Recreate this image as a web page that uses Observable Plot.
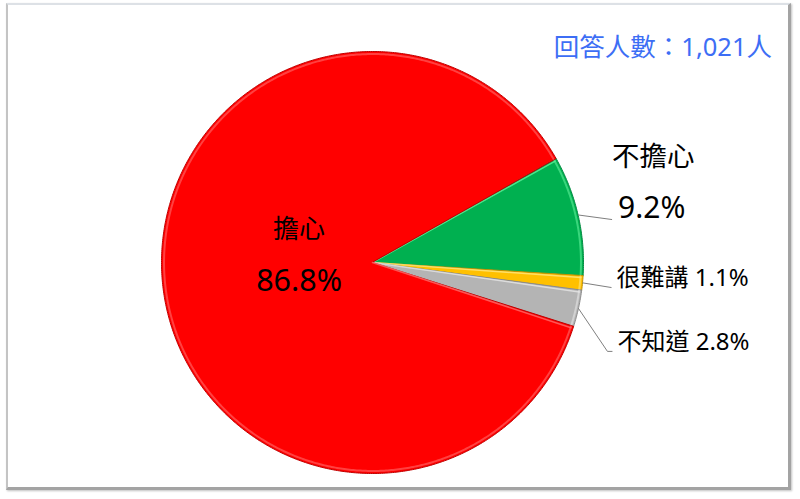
<!DOCTYPE html>
<html>
<head>
<meta charset="utf-8">
<script src="https://cdn.jsdelivr.net/npm/d3@7"></script>
<script src="https://cdn.jsdelivr.net/npm/@observablehq/plot@0.6"></script>
<style>
  html, body { margin: 0; padding: 0; background: #ffffff; }
  body { width: 800px; height: 499px; overflow: hidden; position: relative; font-family: "Noto Sans", "Noto Sans CJK TC", sans-serif; }
  #frame { position: absolute; left: 6px; top: 3px; width: 780px; height: 482px; background: #fff;
           border-left: 2px solid #c4c4c4; border-top: 2px solid #dde1e6; border-right: 3px solid #a3a3a3; border-bottom: 3px solid #a3a3a3;
           box-shadow: 1px 1px 2px rgba(0,0,0,0.25); }
  #chart { position: absolute; left: 0; top: 0; }
  #note { position: absolute; right: 28px; top: 30px; color: #3d6ef5; font-size: 25.5px; line-height: 32px; white-space: nowrap; }
</style>
</head>
<body>
<div id="frame"></div>
<div id="chart"></div>
<div id="note">回答人數：1,021人</div>
<script>
// ---- data ----
const categories = ["不擔心", "很難講", "不知道", "擔心"];
const values = [9.2, 1.1, 2.8, 86.8];
const sliceColors = ["#00b050", "#ffc000", "#b4b4b4", "#ff0000"];
const edgeColors = ["#008a40", "#c09000", "#8c8c8c", "#c00000"];
const lightColors = ["#5ff09a", "#ffe680", "#e6e6e6", "#ff6a6a"];

// ---- layout ----
const W = 800, H = 499, cx = 372, cy = 262, R = 211;
const startDeg = 60.4;
const pie = d3.pie().sort(null).value(d => d)
  .startAngle(startDeg * Math.PI / 180)
  .endAngle(startDeg * Math.PI / 180 + 2 * Math.PI);
const arcs = pie(values);

function arcPoints(a0, a1, rho) {
  const n = Math.max(2, Math.ceil((a1 - a0) / (Math.PI / 360)));
  const pts = [];
  for (let k = 0; k <= n; k++) {
    const a = a0 + (a1 - a0) * k / n;
    pts.push({x: rho * Math.sin(a), y: rho * Math.cos(a)});
  }
  return pts;
}

const marks = [];
arcs.forEach((a, i) => {
  const poly = [{x: 0, y: 0}, ...arcPoints(a.startAngle, a.endAngle, 1)];
  marks.push(Plot.line(poly, {x: "x", y: "y", fill: sliceColors[i], stroke: edgeColors[i], strokeWidth: 1, curve: "linear-closed"}));
  marks.push(Plot.line(arcPoints(a.startAngle + 0.004, a.endAngle - 0.004, 0.988), {x: "x", y: "y", stroke: lightColors[i], strokeWidth: 2, strokeOpacity: 0.6}));
  marks.push(Plot.line([{x: 0, y: 0}, {x: 0.99 * Math.sin(a.startAngle + 0.01), y: 0.99 * Math.cos(a.startAngle + 0.01)}], {x: "x", y: "y", stroke: lightColors[i], strokeWidth: 1.5, strokeOpacity: 0.8}));
});

// leader lines & outside labels (pixel offsets converted to unit coords)
const px = v => v / R;
const mid = a => (a.startAngle + a.endAngle) / 2;
const edge = a => ({x: Math.sin(mid(a)), y: Math.cos(mid(a))});

const outside = [
  {i: 0, bends: [[34, 4.6]]},
  {i: 1, bends: [[29, 4.7]]},
  {i: 2, bends: [[29, 43], [34, 43]]}
];
const leaderSegs = [];
const labelAnchors = [];
outside.forEach(o => {
  const e = edge(arcs[o.i]);
  const pts = [e, ...o.bends.map(([dx, dy]) => ({x: e.x + px(dx), y: e.y - px(dy)}))];
  for (let k = 0; k < pts.length - 1; k++) leaderSegs.push({x1: pts[k].x, y1: pts[k].y, x2: pts[k + 1].x, y2: pts[k + 1].y});
  labelAnchors[o.i] = pts[pts.length - 1];
});
marks.push(Plot.link(leaderSegs, {x1: "x1", y1: "y1", x2: "x2", y2: "y2", stroke: "#7f7f7f", strokeWidth: 1}));

const pct = v => `${v}%`;
// 不擔心 label (two lines)
marks.push(Plot.text([labelAnchors[0]], {x: "x", y: "y", text: () => categories[0], textAnchor: "start", lineAnchor: "middle", dx: 0, dy: -62, fontSize: 27.5, fill: "#000"}));
marks.push(Plot.text([labelAnchors[0]], {x: "x", y: "y", text: () => pct(values[0]), textAnchor: "start", lineAnchor: "middle", dx: 6, dy: -11, fontSize: 30, fill: "#000"}));
// small labels
[1, 2].forEach(i => {
  marks.push(Plot.text([labelAnchors[i]], {x: "x", y: "y", text: () => `${categories[i]} ${pct(values[i])}`, textAnchor: "start", lineAnchor: "middle", dx: 5, dy: -9, fontSize: 24, fill: "#000"}));
});
// inside label for 擔心
const redMid = mid(arcs[3]);
const inside = [{x: 0.35 * Math.sin(redMid), y: 0.35 * Math.cos(redMid)}];
marks.push(Plot.text(inside, {x: "x", y: "y", text: () => categories[3], textAnchor: "middle", lineAnchor: "middle", dy: -41, fontSize: 26, fill: "#000"}));
marks.push(Plot.text(inside, {x: "x", y: "y", text: () => pct(values[3]), textAnchor: "middle", lineAnchor: "middle", dy: 11, fontSize: 30.5, fill: "#000"}));

const chart = Plot.plot({
  width: W, height: H, margin: 0,
  x: {domain: [-1, 1], range: [cx - R, cx + R], axis: null},
  y: {domain: [-1, 1], range: [cy + R, cy - R], axis: null},
  style: {background: "transparent", fontFamily: "'Noto Sans', 'Noto Sans CJK TC', sans-serif", overflow: "visible"},
  marks
});
document.getElementById("chart").appendChild(chart);
</script>
</body>
</html>
